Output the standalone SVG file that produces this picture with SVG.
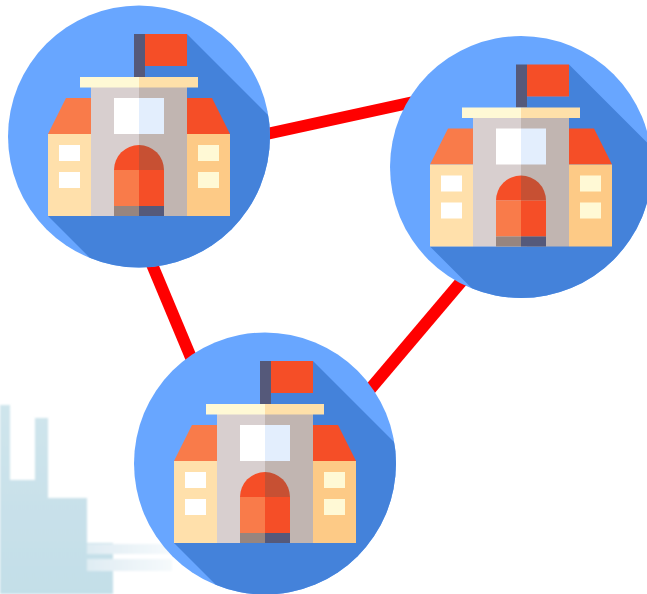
<svg xmlns="http://www.w3.org/2000/svg" width="647" height="594" viewBox="0 0 647 594">
<style>
.link{stroke:#ff0000;stroke-width:12;fill:none}
</style>
<defs>
<linearGradient id="city" gradientUnits="userSpaceOnUse" x1="0" x2="0" y1="405" y2="594"><stop offset="0" stop-color="#cfe5ec"/><stop offset="0.5" stop-color="#c9e1ea"/><stop offset="1" stop-color="#c3dfe8"/></linearGradient>
<linearGradient id="stripe" x1="0" x2="1" y1="0" y2="0"><stop offset="0" stop-color="#dfecf3"/><stop offset="1" stop-color="#f6fafc"/></linearGradient>
<filter id="soft" x="-5%" y="-5%" width="110%" height="110%"><feGaussianBlur stdDeviation="1.300"/></filter>
<clipPath id="disc"><circle cx="139" cy="136.5" r="131"/></clipPath>
<g id="school">
<circle cx="139" cy="136.5" r="131" fill="#68a6ff"/>
<polygon clip-path="url(#disc)" points="145,66 187,66 187,34 290,137 290,290 122,290 48,216 145,216" fill="#4482da"/>
<rect x="134" y="34" width="11" height="43" fill="#55597a"/>
<rect x="145" y="34" width="42" height="32" fill="#f54e27"/>
<rect x="91" y="87" width="48" height="129" fill="#d8cfcf"/>
<rect x="139" y="87" width="48" height="129" fill="#c1b5b1"/>
<rect x="80" y="77" width="59" height="10.500" fill="#fff9d5"/>
<rect x="139" y="77" width="59" height="10.500" fill="#fee0a9"/>
<rect x="114" y="98" width="25" height="36" fill="#ffffff"/>
<rect x="139" y="98" width="25" height="36" fill="#e3eefd"/>
<polygon points="48,134 66,98 91,98 91,134" fill="#f97b4a"/>
<polygon points="187,98 212,98 230,134 187,134" fill="#f54e27"/>
<rect x="48" y="134" width="43" height="82" fill="#ffe0ab"/>
<rect x="187" y="134" width="43" height="82" fill="#fdca86"/>
<rect x="59" y="145" width="21" height="16" fill="#ffffff"/>
<rect x="59" y="172" width="21" height="16" fill="#ffffff"/>
<rect x="198" y="145" width="21" height="16" fill="#fff9d5"/>
<rect x="198" y="172" width="21" height="16" fill="#fff9d5"/>
<path d="M114,170 A25,25 0 0 1 139,145 V170 Z" fill="#f54e27"/>
<path d="M164,170 A25,25 0 0 0 139,145 V170 Z" fill="#c75033"/>
<rect x="114" y="170" width="25" height="36" fill="#f97b4a"/>
<rect x="139" y="170" width="25" height="36" fill="#f54e27"/>
<rect x="114" y="206" width="25" height="10" fill="#97857f"/>
<rect x="139" y="206" width="25" height="10" fill="#55597a"/>
</g>
</defs>
<rect width="647" height="594" fill="#ffffff"/>
<g id="backdrop" filter="url(#soft)">
<path d="M0,405 H10 V480 H35 V418 H48 V498 H87 V543 H113 V594 H0 Z" fill="url(#city)"/>
<rect x="87" y="544" width="85" height="10" fill="url(#stripe)"/>
<rect x="87" y="559" width="85" height="12" fill="url(#stripe)"/>
</g>
<g id="connectors">
<line class="link" x1="262" y1="135" x2="418" y2="101"/>
<line class="link" x1="151" y1="262" x2="192" y2="360"/>
<line class="link" x1="466" y1="276" x2="366" y2="394"/>
</g>
<g id="node-1"><use href="#school"/></g>
<g id="node-2"><use href="#school" transform="translate(382 30.5)"/></g>
<g id="node-3"><use href="#school" transform="translate(126 327)"/></g>
</svg>
